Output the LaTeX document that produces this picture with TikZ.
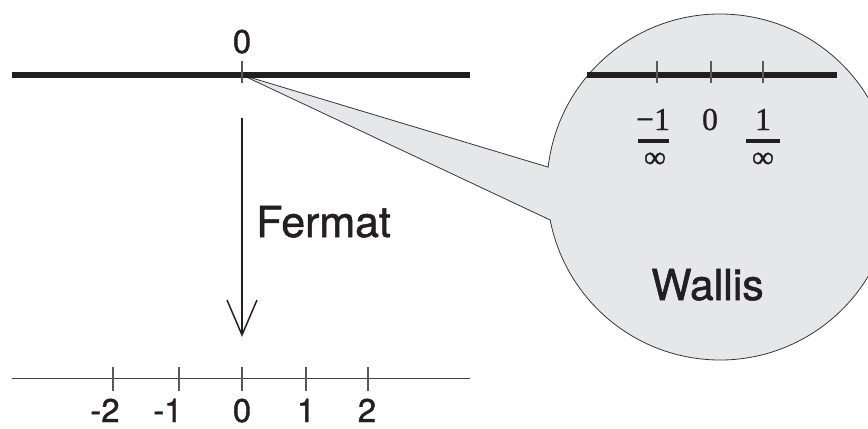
\documentclass[tikz,border=0pt]{standalone}
\usepackage{fontspec}
\setmainfont[FakeBold=1.2]{TeX Gyre Heros}
\newfontfamily\serifT[FakeBold=0.8]{Liberation Serif}
\definecolor{ink}{HTML}{231F20}
\definecolor{lens}{HTML}{E6E7E9}
\begin{document}
\begin{tikzpicture}[x=1bp,y=1bp,
  thickaxis/.style={line width=6.5bp,color=ink},
  thinaxis/.style={line width=1bp,color=ink!85},
  tickmark/.style={line width=1.1bp,color=ink!75},
  numlbl/.style={font=\fontsize{33}{33}\selectfont,text=ink,inner sep=0pt,anchor=base},
  serlbl/.style={font=\serifT\fontsize{32}{32}\selectfont,text=ink,inner sep=0pt,anchor=base},
  inflbl/.style={font=\serifT\fontsize{31}{31}\selectfont,text=ink,inner sep=0pt},
  namelbl/.style={font=\fontsize{43}{43}\selectfont,text=ink,inner sep=0pt,anchor=base west},
  fracbar/.style={line width=3.5bp,color=ink}]
\useasboundingbox (0,0) rectangle (868,428);
\clip (0,0) rectangle (868,428);

% magnifier callout
\coordinate (c) at (720,241);
\coordinate (apex) at (242,353);
\coordinate (up) at ([shift={(c)}]173.4:173);
\draw[fill=lens,draw=ink!90,line width=0.8bp]
  (apex) -- (up) arc[start angle=173.4,end angle=-169,radius=173] -- cycle;

% top thick axis
\coordinate (tl) at (12,353);
\coordinate (tr) at (470,353);
\draw[thickaxis] (tl) -- (tr);
\coordinate (t0a) at (242,367); \coordinate (t0b) at (242,345);
\draw[tickmark] (t0a) -- (t0b);
\node[numlbl] (top0) at (242,375) {0};

% arrow Fermat
\coordinate (as) at (242,310);
\coordinate (ae) at (242,93);
\coordinate (awl) at (227,128);
\coordinate (awr) at (257,128);
\draw[line width=1.5bp,color=ink] (as) -- (ae);
\draw[line width=1.5bp,color=ink,line join=miter] (awl) -- (ae) -- (awr);
\node[namelbl] (fermat) at (256,191) {Fermat};

% bottom axis
\coordinate (bl) at (12,50);
\coordinate (br) at (470,50);
\draw[thinaxis] (bl) -- (br);
\foreach \x/\t/\c in {113/-2/105,179/-1/168,242/0/242,306/1/306,368/2/367}{
  \draw[tickmark] (\x,61) -- (\x,37);
  \node[numlbl] at (\c,6) {\t};
}

% inner axis in lens
\coordinate (il) at (587,353);
\coordinate (ir) at (837,353);
\draw[thickaxis] (il) -- (ir);
\foreach \x in {657,711,763}{
  \draw[tickmark] (\x,367) -- (\x,345);
}
\node[serlbl] (n0) at (710,298) {0};
\node[serlbl] (nm1) at (653,298) {−1};
\coordinate (b1a) at (638,287); \coordinate (b1b) at (669,287);
\draw[fracbar] (b1a) -- (b1b);
\node[inflbl] (inf1) at (655,268) {∞};
\node[serlbl] (np1) at (763,298) {1};
\coordinate (b2a) at (746,287); \coordinate (b2b) at (780,287);
\draw[fracbar] (b2a) -- (b2b);
\node[inflbl] (inf2) at (763,268) {∞};

\node[namelbl] (wallis) at (651,128) {Wallis};
\end{tikzpicture}
\end{document}
